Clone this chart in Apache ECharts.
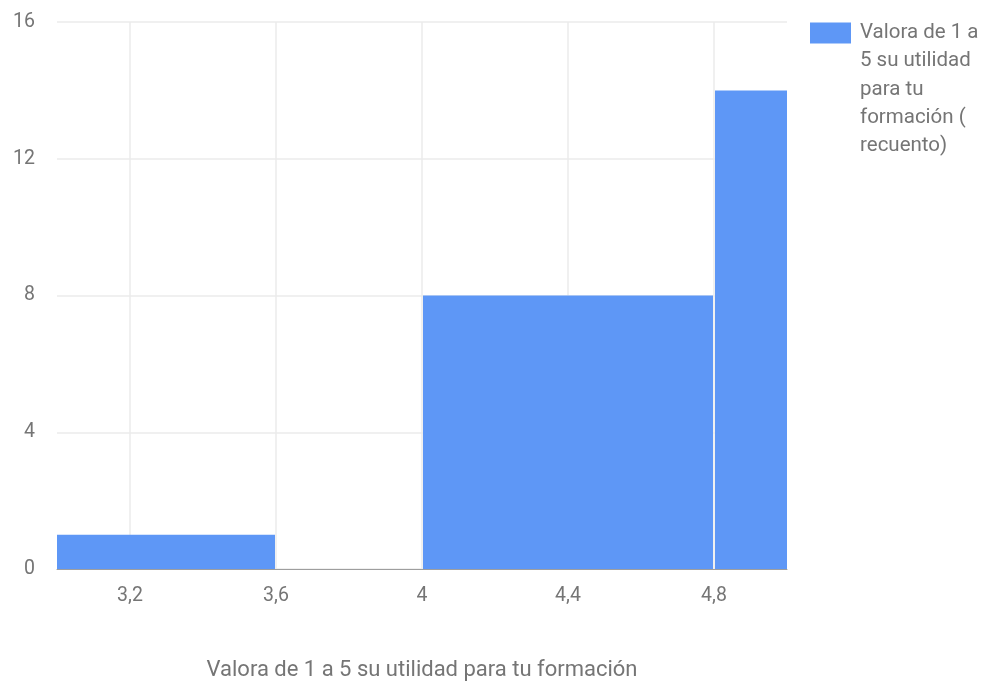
<!DOCTYPE html>
<html>
<head>
<meta charset="utf-8">
<script src="https://cdn.jsdelivr.net/npm/echarts@6/dist/echarts.min.js"></script>
<style>html,body{margin:0;padding:0;background:#fff}#c{width:989px;height:684px}</style>
</head>
<body>
<div id="c"></div>
<script>
// Histogram bins: [start, end]
const BIN_START = [3.0, 3.6, 4.0, 4.8];
const BIN_END   = [3.6, 4.0, 4.8, 5.0];
const COUNTS    = [1, 0, 8, 14];
const X_TICKS   = [3.2, 3.6, 4.0, 4.4, 4.8];
const Y_TICKS   = [0, 4, 8, 12, 16];
const SERIES_NAME = 'Valora de 1 a 5 su utilidad para tu formación ( recuento)';
const LEGEND_LINES = ['Valora de 1 a', '5 su utilidad', 'para tu', 'formación (', 'recuento)'];
const X_TITLE = 'Valora de 1 a 5 su utilidad para tu formación';

const BLUE = '#5e97f6';
const TXT = '#757575';
const FONT = 'Roboto';

const data = BIN_START.map((s, i) => [s, BIN_END[i], COUNTS[i]]);

const chart = echarts.init(document.getElementById('c'));
chart.setOption({
  animation: false,
  textStyle: { fontFamily: FONT },
  grid: { left: 57, right: 202, top: 22, bottom: 115, containLabel: false, outerBoundsMode: 'none' },
  legend: {
    show: true,
    left: 804,
    top: 22.5,
    padding: 0,
    icon: 'none',
    itemWidth: 1,
    itemHeight: 1,
    selectedMode: false,
    data: [SERIES_NAME],
    formatter: function () {
      return LEGEND_LINES.map((l, i) =>
        (i === 0 ? '{box| }{gap| }' : '{sp| }') + '{t|' + l + '}'
      ).join('\n');
    },
    textStyle: {
      fontFamily: FONT,
      rich: {
        box: { width: 41, height: 21, backgroundColor: BLUE, fontSize: 1, lineHeight: 28.3 },
        gap: { width: 9, fontSize: 1, lineHeight: 28.3 },
        sp: { width: 50, fontSize: 1, lineHeight: 28.3 },
        t: { fontSize: 20.5, lineHeight: 28.3, color: TXT, fontFamily: FONT }
      }
    }
  },
  xAxis: {
    type: 'value',
    min: 3.0,
    max: 5.0,
    name: X_TITLE,
    nameLocation: 'middle',
    nameGap: 90,
    nameTextStyle: { fontSize: 22, color: TXT, fontFamily: FONT },
    axisLine: { show: true, lineStyle: { color: '#9e9e9e', width: 1 } },
    axisTick: { show: false, customValues: X_TICKS },
    axisLabel: {
      customValues: X_TICKS,
      margin: 17,
      fontSize: 19.5,
      color: TXT,
      fontFamily: FONT,
      formatter: v => String(Math.round(v * 10) / 10).replace('.', ',')
    },
    splitLine: { show: true, lineStyle: { color: '#ebebeb', width: 1.5 } }
  },
  yAxis: {
    type: 'value',
    min: 0,
    max: 16,
    interval: 4,
    axisLine: { show: false },
    axisTick: { show: false },
    axisLabel: { margin: 22, fontSize: 19.5, color: TXT, fontFamily: FONT },
    splitLine: { show: true, lineStyle: { color: '#ebebeb', width: 1.5 } }
  },
  series: [{
    type: 'custom',
    name: SERIES_NAME,
    data: data,
    encode: { x: [0, 1], y: 2 },
    itemStyle: { color: BLUE },
    renderItem: function (params, api) {
      const s = api.coord([api.value(0), 0]);
      const e = api.coord([api.value(1), api.value(2)]);
      const x0 = s[0] + (api.value(0) > 3.0 ? 1 : 0);
      const x1 = e[0] - (api.value(1) < 5.0 ? 1 : 0);
      return {
        type: 'rect',
        shape: { x: x0, y: e[1], width: x1 - x0, height: s[1] - e[1] },
        style: { fill: BLUE }
      };
    },
    z: 3
  }]
});
</script>
</body>
</html>
